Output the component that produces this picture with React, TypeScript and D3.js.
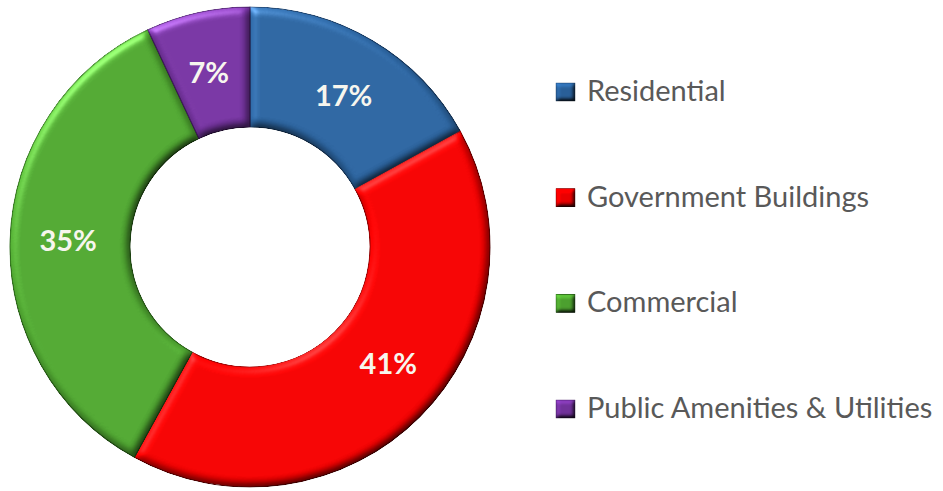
import React from "react";
import * as d3 from "d3";

const categories = ["Residential", "Government Buildings", "Commercial", "Public Amenities & Utilities"];
const values = [17, 41, 35, 7];
const labels = ["17%", "41%", "35%", "7%"];
const colors = ["#2d68a6", "#fe0000", "#53ae33", "#7b36a8"];
const edgeColors = ["#1d4675", "#a00000", "#347a1e", "#4e1f70"];

const W = 943;
const H = 491;
const cx = 250;
const cy = 247;
const outerR = 240;
const innerR = 120;

// small nudge so the big slice's label sits where the original placed it
const labelNudge: [number, number][] = [[2, 2], [11, -12], [-2, -2], [-2, 0]];

export default function App() {
  const pie = d3.pie<number>().sort(null).startAngle(0).endAngle(2 * Math.PI)(values);
  const arc = d3.arc<d3.PieArcDatum<number>>().innerRadius(innerR).outerRadius(outerR);
  const legendY = d3.scalePoint<string>().domain(categories).range([92, 409]);

  return (
    <svg width={W} height={H} style={{ position: "absolute", left: 0, top: 0, background: "#fff" }}>
      <defs>
        <filter id="bevel" x="-10%" y="-10%" width="120%" height="120%" colorInterpolationFilters="sRGB">
          <feGaussianBlur in="SourceAlpha" stdDeviation="4" result="blur" />
          <feSpecularLighting in="blur" surfaceScale="4" specularConstant="0.6" specularExponent="24" lightingColor="#ffffff" result="spec">
            <feDistantLight azimuth="235" elevation="40" />
          </feSpecularLighting>
          <feComposite in="spec" in2="SourceAlpha" operator="in" result="specIn" />
          <feDiffuseLighting in="blur" surfaceScale="4" diffuseConstant="1" lightingColor="#ffffff" result="diff">
            <feDistantLight azimuth="235" elevation="55" />
          </feDiffuseLighting>
          <feComposite in="diff" in2="SourceAlpha" operator="in" result="diffIn" />
          <feComposite in="SourceGraphic" in2="diffIn" operator="arithmetic" k1="1.16" k2="0" k3="0" k4="0" result="lit" />
          <feComposite in="lit" in2="specIn" operator="arithmetic" k1="0" k2="1" k3="0.4" k4="0" />
        </filter>
        <filter id="bevelSmall" x="-20%" y="-20%" width="140%" height="140%" colorInterpolationFilters="sRGB">
          <feGaussianBlur in="SourceAlpha" stdDeviation="2" result="blur" />
          <feDiffuseLighting in="blur" surfaceScale="3" diffuseConstant="1" lightingColor="#ffffff" result="diff">
            <feDistantLight azimuth="235" elevation="50" />
          </feDiffuseLighting>
          <feComposite in="diff" in2="SourceAlpha" operator="in" result="diffIn" />
          <feComposite in="SourceGraphic" in2="diffIn" operator="arithmetic" k1="1.2" k2="0" k3="0" k4="0" />
        </filter>
      </defs>
      <g transform={`translate(${cx},${cy})`}>
        {pie.map((d, i) => (
          <path key={i} d={arc(d) || ""} fill={colors[i]} stroke={edgeColors[i]} strokeWidth={1.2} filter="url(#bevel)" />
        ))}
        {pie.map((d, i) => {
          const [x, y] = arc.centroid(d);
          return (
            <text
              key={"t" + i}
              x={x + labelNudge[i][0]}
              y={y + labelNudge[i][1]}
              textAnchor="middle"
              dominantBaseline="central"
              fontFamily="Lato, 'Open Sans', sans-serif"
              fontWeight="bold"
              fontSize={29}
              fill="#f7f6ee"
            >
              {labels[i]}
            </text>
          );
        })}
      </g>
      <g>
        {categories.map((c, i) => {
          const y = legendY(c) as number;
          return (
            <g key={c}>
              <rect x={556} y={y - 9} width={19} height={18} fill={colors[i]} stroke={edgeColors[i]} strokeWidth={0.8} filter="url(#bevelSmall)" />
              <text x={587} y={y + 9} fontFamily="Lato, 'Open Sans', sans-serif" fontSize={29} fill="#595959">
                {c}
              </text>
            </g>
          );
        })}
      </g>
    </svg>
  );
}
